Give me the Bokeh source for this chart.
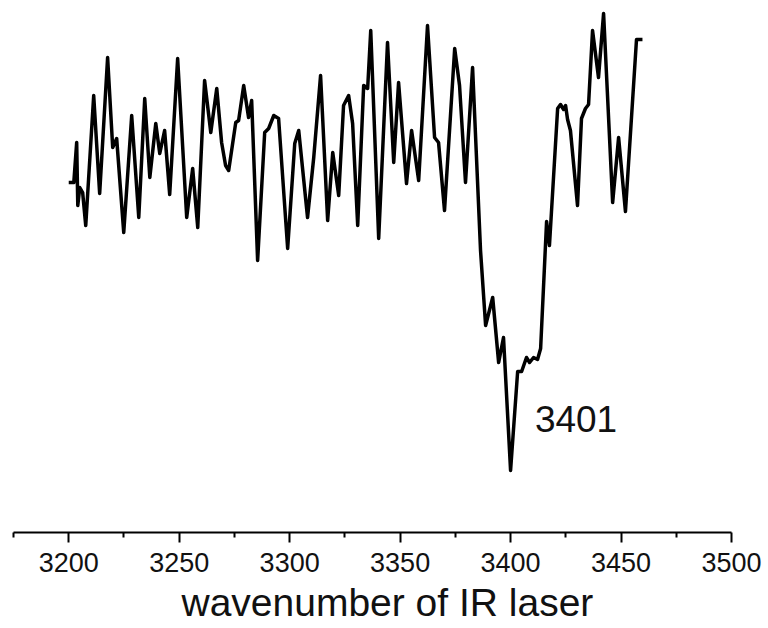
from bokeh.plotting import figure
from bokeh.models import Range1d, FixedTicker, Label, Title
from bokeh.embed import file_html
from bokeh.resources import INLINE

# wavenumber (cm^-1)
wavenumber = [
    3200.0, 3202.3, 3203.6, 3204.1, 3205.0, 3206.3, 3207.7, 3211.3, 3214.0, 3217.6,
    3219.9, 3221.7, 3224.9, 3228.5, 3231.7, 3234.4, 3236.7, 3239.4, 3241.2, 3243.4,
    3245.7, 3249.3, 3253.4, 3256.1, 3258.4, 3261.5, 3264.3, 3267.0, 3269.2, 3271.0,
    3272.4, 3275.6, 3276.9, 3279.2, 3281.4, 3282.8, 3285.5, 3288.7, 3290.5, 3292.8,
    3295.0, 3299.1, 3302.3, 3304.1, 3308.1, 3310.9, 3314.0, 3317.2, 3319.5, 3322.2,
    3324.4, 3326.7, 3328.5, 3330.8, 3333.5, 3335.3, 3336.7, 3340.3, 3344.3, 3347.1,
    3349.3, 3352.9, 3355.2, 3358.4, 3362.4, 3365.6, 3367.4, 3370.1, 3374.7, 3376.9,
    3379.6, 3382.8, 3386.4, 3388.7, 3391.9, 3394.6, 3396.8, 3400.0, 3403.2, 3405.0,
    3407.2, 3408.6, 3410.4, 3412.2, 3413.6, 3416.3, 3417.6, 3421.3, 3422.6, 3424.0,
    3424.9, 3425.8, 3427.1, 3430.3, 3432.1, 3433.9, 3435.3, 3437.1, 3439.8, 3442.1,
    3446.2, 3448.9, 3452.0, 3457.0, 3459.7,
]

# signal (arbitrary units)
signal = [
    3.18, 3.18, 3.58, 2.95, 3.13, 3.08, 2.75, 4.05, 3.07, 4.43,
    3.53, 3.62, 2.68, 3.85, 2.83, 4.02, 3.23, 3.77, 3.47, 3.70,
    3.06, 4.42, 2.83, 3.32, 2.73, 4.20, 3.68, 4.12, 3.58, 3.35,
    3.30, 3.78, 3.80, 4.15, 3.83, 4.00, 2.40, 3.68, 3.72, 3.85,
    3.82, 2.52, 3.57, 3.70, 2.83, 3.43, 4.25, 2.80, 3.48, 3.05,
    3.95, 4.05, 3.77, 2.75, 4.15, 4.12, 4.70, 2.62, 4.58, 3.38,
    4.18, 3.17, 3.70, 3.20, 4.75, 3.63, 3.58, 2.90, 4.52, 4.15,
    3.18, 4.33, 2.50, 1.75, 2.03, 1.38, 1.63, 0.30, 1.29, 1.29,
    1.43, 1.38, 1.43, 1.41, 1.52, 2.79, 2.55, 3.92, 3.96, 3.91,
    3.95, 3.81, 3.70, 2.95, 3.82, 3.92, 3.96, 4.70, 4.23, 4.87,
    2.98, 3.63, 2.89, 4.61, 4.61,
]

major_ticks = [3200, 3250, 3300, 3350, 3400, 3450, 3500]
minor_ticks = [3175, 3225, 3275, 3325, 3375, 3425, 3475]
peak_label = "3401"
x_title = "wavenumber of IR laser"

p = figure(width=768, height=628, output_backend="svg", toolbar_location=None,
           x_range=Range1d(3175, 3500), y_range=Range1d(-0.32, 5.0),
           min_border_left=13, min_border_right=37, min_border_top=0,
           min_border_bottom=96)
p.outline_line_color = None
p.xgrid.visible = False
p.ygrid.visible = False
p.yaxis.visible = False
p.background_fill_color = "white"
p.border_fill_color = "white"

p.line(wavenumber, signal, line_color="black", line_width=3.5, line_join="round")

ax = p.xaxis[0]
ax.ticker = FixedTicker(ticks=major_ticks, minor_ticks=minor_ticks)
ax.axis_line_width = 2
ax.axis_line_color = "black"
ax.major_tick_line_width = 2
ax.minor_tick_line_width = 2
ax.major_tick_out = 10
ax.major_tick_in = 0
ax.minor_tick_out = 5
ax.minor_tick_in = 0
ax.major_label_text_font = "Liberation Sans"
ax.major_label_text_font_size = "27px"
ax.major_label_text_color = "#111111"
ax.major_label_standoff = 10

# axis title, below the tick labels (left edge placed as in the reference)
p.add_layout(Title(text=x_title, align="left", offset=168, standoff=8,
                   text_font="Liberation Sans", text_font_size="39px",
                   text_font_style="normal", text_color="#111111"), "below")

p.add_layout(Label(x=3411, y=0.82, text=peak_label, text_font="Liberation Sans",
                   text_font_size="37px", text_color="#111111",
                   text_baseline="middle", text_align="left"))

open("out.html", "w").write(file_html(p, INLINE))
